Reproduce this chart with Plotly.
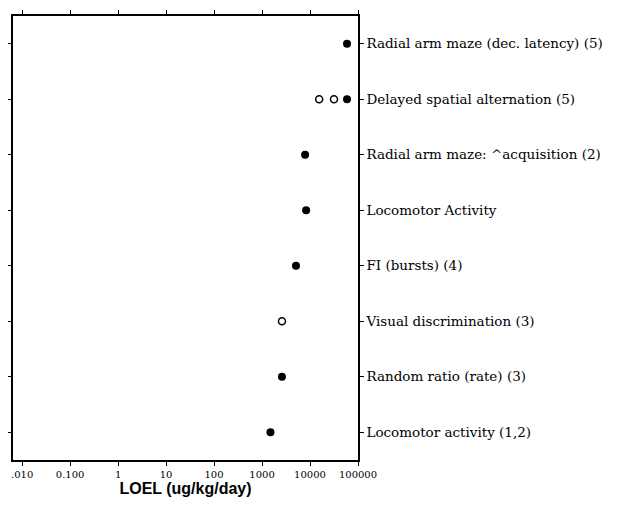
import plotly.graph_objects as go

categories = [
    "Locomotor activity (1,2)",
    "Random ratio (rate) (3)",
    "Visual discrimination (3)",
    "FI (bursts) (4)",
    "Locomotor Activity",
    "Radial arm maze: ^acquisition (2)",
    "Delayed spatial alternation (5)",
    "Radial arm maze (dec. latency) (5)",
]

filled_cat = [
    "Radial arm maze (dec. latency) (5)",
    "Delayed spatial alternation (5)",
    "Radial arm maze: ^acquisition (2)",
    "Locomotor Activity",
    "FI (bursts) (4)",
    "Random ratio (rate) (3)",
    "Locomotor activity (1,2)",
]
filled_loel = [59000, 59000, 7900, 8300, 5100, 2600, 1500]

open_cat = [
    "Delayed spatial alternation (5)",
    "Delayed spatial alternation (5)",
    "Visual discrimination (3)",
]
open_loel = [15500, 31600, 2600]

tick_vals = [0.01, 0.1, 1, 10, 100, 1000, 10000, 100000]
tick_text = [".010", "0.100", "1", "10", "100", "1000", "10000", "100000"]

fig = go.Figure()
fig.add_trace(go.Scatter(
    x=filled_loel, y=filled_cat, mode="markers",
    marker=dict(symbol="circle", size=8, color="black"),
    showlegend=False,
))
fig.add_trace(go.Scatter(
    x=open_loel, y=open_cat, mode="markers",
    marker=dict(symbol="circle-open", size=7, color="black", line=dict(width=1.5)),
    showlegend=False,
))

fig.update_layout(
    width=620, height=498,
    margin=dict(l=5, r=270, t=8, b=46),
    paper_bgcolor="white", plot_bgcolor="white",
    xaxis=dict(
        type="log", range=[-2.19, 5], automargin=False,
        tickvals=tick_vals, ticktext=tick_text,
        ticks="outside", ticklen=4, tickwidth=1.2, tickcolor="black",
        showline=True, linecolor="black", linewidth=1.5, mirror="ticks",
        showgrid=False, zeroline=False,
        tickfont=dict(family="DejaVu Serif", size=10, color="black"),
        title=dict(text="<b>LOEL (ug/kg/day)</b>",
                   font=dict(family="Liberation Sans", size=16, color="black"),
                   standoff=2),
    ),
    yaxis=dict(
        type="category", categoryorder="array", categoryarray=categories,
        range=[-0.5, 7.5], side="right", automargin=False,
        ticks="outside", ticklen=4, tickwidth=1.2, tickcolor="black",
        showline=True, linecolor="black", linewidth=1.5, mirror="ticks",
        showgrid=False, zeroline=False,
        tickfont=dict(family="DejaVu Serif", size=13.5, color="black"),
        ticklabelstandoff=0,
    ),
)

fig.write_html("out.html")
